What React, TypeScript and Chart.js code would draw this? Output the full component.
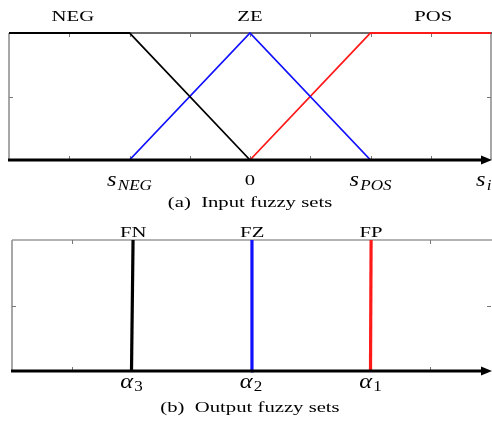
import React, { useEffect, useRef } from "react";
import { Chart, registerables } from "chart.js";

Chart.register(...registerables);

// ---------- Data: (a) input fuzzy sets ----------
const negX = [-2, -1, 0];
const negY = [1, 1, 0];
const zeX = [-1, 0, 1];
const zeY = [0, 1, 0];
const posX = [0, 1, 2];
const posY = [0, 1, 1];
const inputSetNames = ["NEG", "ZE", "POS"];
const inputSetLabelX = [-1.47, 0, 1.52];
const inputAxisMain = ["s", "0", "s", "s"];
const inputAxisSub = ["NEG", "", "POS", "i"];
const inputAxisX = [-1, 0, 1, 1.94];
const inputTickX = [-1.5, -1, -0.5, 0, 0.5, 1, 1.5];
const inputCaption = "(a)  Input fuzzy sets";

// ---------- Data: (b) output fuzzy sets (singletons) ----------
const fnX = [-1, -0.987];
const fzX = [0, 0.008];
const fpX = [1, 1.005];
const singletonY = [0, 1];
const outputSetNames = ["FN", "FZ", "FP"];
const outputSetLabelX = [-0.985, 0.01, 1.005];
const outputAxisMain = ["α", "α", "α"];
const outputAxisSub = ["3", "2", "1"];
const outputAxisX = [-1, 0, 1];
const outputTickX = [-1.5, 1.5];
const outputCaption = "(b)  Output fuzzy sets";

const SERIF = '"Liberation Serif", "Times New Roman", serif';
const TEXT_STRETCH = 1.38;
const MATH_STRETCH = 1.22;

function pts(xs: number[], ys: number[]) {
  return xs.map((x, i) => ({ x, y: ys[i] }));
}

function drawStretched(ctx: CanvasRenderingContext2D, text: string, cx: number, y: number, font: string, k: number) {
  ctx.save();
  ctx.font = font;
  ctx.textAlign = "center";
  ctx.textBaseline = "alphabetic";
  ctx.translate(cx, y);
  ctx.scale(k, 1);
  ctx.fillText(text, 0, 0);
  ctx.restore();
}

function drawSub(
  ctx: CanvasRenderingContext2D,
  cx: number,
  y: number,
  main: string,
  sub: string,
  mainFont: string,
  subFont: string,
  subDy: number,
  k: number
) {
  ctx.save();
  ctx.font = mainFont;
  const w1 = ctx.measureText(main).width;
  ctx.font = subFont;
  const w2 = sub ? ctx.measureText(sub).width + 1 : 0;
  ctx.translate(cx, y);
  ctx.scale(k, 1);
  const x0 = -(w1 + w2) / 2;
  ctx.textAlign = "left";
  ctx.textBaseline = "alphabetic";
  ctx.font = mainFont;
  ctx.fillText(main, x0, 0);
  if (sub) {
    ctx.font = subFont;
    ctx.fillText(sub, x0 + w1 + 1, subDy);
  }
  ctx.restore();
}

type PanelCfg = {
  topColor: string;
  rightBorder: boolean;
  ticks: number[];
  names: string[];
  nameX: number[];
  nameY: number;
  axisMain: string[];
  axisSub: string[];
  axisX: number[];
  axisY: number;
  mainFont: string;
  subFont: string;
  subDy: number;
  plainFont: string;
  caption: string;
  captionY: number;
};

function makePlugin(cfg: PanelCfg) {
  return {
    id: "fuzzyFrame",
    beforeDatasetsDraw(chart: any) {
      const { ctx, chartArea: a, scales } = chart;
      const sx = scales.x;
      const sy = scales.y;
      ctx.save();
      ctx.lineWidth = 1.5;
      ctx.strokeStyle = "#8a8a8a";
      ctx.beginPath();
      ctx.moveTo(a.left, a.top);
      ctx.lineTo(a.left, a.bottom);
      ctx.stroke();
      if (cfg.rightBorder) {
        ctx.beginPath();
        ctx.moveTo(a.right, a.top);
        ctx.lineTo(a.right, a.bottom);
        ctx.stroke();
      }
      ctx.strokeStyle = cfg.topColor;
      ctx.beginPath();
      ctx.moveTo(a.left, a.top);
      ctx.lineTo(chart.width, a.top);
      ctx.stroke();
      ctx.strokeStyle = "#777";
      ctx.lineWidth = 1;
      cfg.ticks.forEach((v) => {
        const px = Math.round(sx.getPixelForValue(v)) + 0.5;
        ctx.beginPath();
        ctx.moveTo(px, a.top);
        ctx.lineTo(px, a.top + 4);
        ctx.moveTo(px, a.bottom);
        ctx.lineTo(px, a.bottom - 4);
        ctx.stroke();
      });
      const my = Math.round(sy.getPixelForValue(0.5)) + 0.5;
      ctx.beginPath();
      ctx.moveTo(a.left, my);
      ctx.lineTo(a.left + 4, my);
      ctx.moveTo(chart.width - 1, my);
      ctx.lineTo(chart.width - 5, my);
      ctx.stroke();
      ctx.restore();
    },
    afterDatasetsDraw(chart: any) {
      const { ctx, chartArea: a, scales } = chart;
      const sx = scales.x;
      const yb = a.bottom;
      const w = chart.width;
      ctx.save();
      ctx.strokeStyle = "#000";
      ctx.fillStyle = "#000";
      ctx.lineWidth = 3;
      ctx.beginPath();
      ctx.moveTo(a.left - 1, yb);
      ctx.lineTo(w - 8, yb);
      ctx.stroke();
      ctx.beginPath();
      ctx.moveTo(w, yb);
      ctx.lineTo(w - 11, yb - 4.5);
      ctx.lineTo(w - 11, yb + 4.5);
      ctx.closePath();
      ctx.fill();
      cfg.names.forEach((n, i) => {
        drawStretched(ctx, n, sx.getPixelForValue(cfg.nameX[i]), cfg.nameY, `15px ${SERIF}`, TEXT_STRETCH);
      });
      cfg.axisMain.forEach((m, i) => {
        const px = sx.getPixelForValue(cfg.axisX[i]);
        if (m === "0") {
          drawStretched(ctx, m, px, cfg.axisY - 1, cfg.plainFont, TEXT_STRETCH);
        } else {
          drawSub(ctx, px, cfg.axisY, m, cfg.axisSub[i], cfg.mainFont, cfg.subFont, cfg.subDy, MATH_STRETCH);
        }
      });
      drawStretched(ctx, cfg.caption, 250, cfg.captionY, `15px ${SERIF}`, TEXT_STRETCH);
      ctx.restore();
    },
  };
}

function Panel(props: {
  datasets: any[];
  padding: { left: number; right: number; top: number; bottom: number };
  cfg: PanelCfg;
}) {
  const ref = useRef<HTMLCanvasElement | null>(null);
  useEffect(() => {
    if (!ref.current) return;
    const chart = new Chart(ref.current, {
      type: "line",
      data: { datasets: props.datasets },
      options: {
        animation: false,
        responsive: false,
        devicePixelRatio: 1,
        layout: { padding: props.padding },
        plugins: { legend: { display: false }, tooltip: { enabled: false }, title: { display: false } },
        scales: {
          x: { type: "linear", min: -2, max: 2, display: false },
          y: { type: "linear", min: 0, max: 1, display: false },
        },
        elements: { point: { radius: 0 }, line: { tension: 0 } },
      },
      plugins: [makePlugin(props.cfg)],
    });
    return () => chart.destroy();
  }, []);
  return <canvas ref={ref} width={492} height={212} style={{ display: "block", width: 492, height: 212 }} />;
}

export default function App() {
  const topSets = [
    { data: pts(negX, negY), borderColor: "#000000", borderWidth: 1.8, fill: false, clip: 6 },
    { data: pts(zeX, zeY), borderColor: "#1010ff", borderWidth: 1.8, fill: false, clip: 6 },
    { data: pts(posX, posY), borderColor: "#ff1a1a", borderWidth: 1.8, fill: false, clip: 6 },
  ];
  const bottomSets = [
    { data: pts(fnX, singletonY), borderColor: "#000000", borderWidth: 3.2, fill: false, clip: 6 },
    { data: pts(fzX, singletonY), borderColor: "#1010ff", borderWidth: 3.2, fill: false, clip: 6 },
    { data: pts(fpX, singletonY), borderColor: "#ff1a1a", borderWidth: 3.2, fill: false, clip: 6 },
  ];
  const topCfg: PanelCfg = {
    topColor: "#3a3a3a",
    rightBorder: true,
    ticks: inputTickX,
    names: inputSetNames,
    nameX: inputSetLabelX,
    nameY: 21,
    axisMain: inputAxisMain,
    axisSub: inputAxisSub,
    axisX: inputAxisX,
    axisY: 186,
    mainFont: `italic 20px ${SERIF}`,
    subFont: `italic 14px ${SERIF}`,
    subDy: 4,
    plainFont: `15px ${SERIF}`,
    caption: inputCaption,
    captionY: 207,
  };
  const bottomCfg: PanelCfg = {
    topColor: "#9a9a9a",
    rightBorder: false,
    ticks: outputTickX,
    names: outputSetNames,
    nameX: outputSetLabelX,
    nameY: 237 - 212,
    axisMain: outputAxisMain,
    axisSub: outputAxisSub,
    axisX: outputAxisX,
    axisY: 388 - 212,
    mainFont: `italic 20px ${SERIF}`,
    subFont: `14px ${SERIF}`,
    subDy: 3,
    plainFont: `15px ${SERIF}`,
    caption: outputCaption,
    captionY: 412 - 212,
  };
  return (
    <div style={{ position: "absolute", left: 0, top: 0, width: 492, height: 424, background: "#fff" }}>
      <Panel datasets={topSets} padding={{ left: 9, right: 1, top: 33, bottom: 52 }} cfg={topCfg} />
      <Panel datasets={bottomSets} padding={{ left: 12, right: 2, top: 28, bottom: 53 }} cfg={bottomCfg} />
    </div>
  );
}
